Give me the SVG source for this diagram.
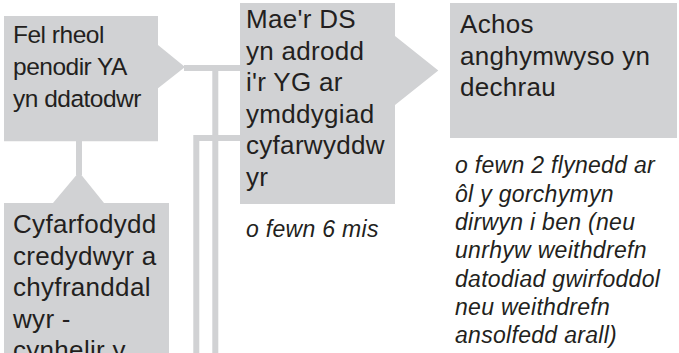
<svg xmlns="http://www.w3.org/2000/svg" width="679" height="353" viewBox="0 0 679 353">
<style>
.box{fill:#d1d2d4;}
.ln{stroke:#d1d2d4;stroke-width:6;fill:none;}
.t{font-family:"Liberation Sans",Arial,sans-serif;font-size:26px;fill:#231f20;letter-spacing:0.3px;}
.t1{font-family:"Liberation Sans",Arial,sans-serif;font-size:24.5px;fill:#231f20;letter-spacing:-0.5px;}
.n{font-family:"Liberation Sans",Arial,sans-serif;font-size:23px;font-style:italic;fill:#231f20;letter-spacing:0.3px;}
</style>
<rect width="679" height="353" fill="#ffffff"/>
<g id="connectors">
<line class="ln" x1="184" y1="68" x2="241" y2="68"/>
<line class="ln" x1="215.3" y1="68" x2="215.3" y2="353"/>
<polyline class="ln" points="241,138 196.3,138 196.3,353"/>
<line class="ln" x1="79" y1="140" x2="79" y2="175"/>
</g>
<g id="node-ya">
<path class="box" d="M4,16 H158 V45 L185,67 L158,88.3 V141.3 H4 Z"/>
<text class="t1" x="13" y="43.3">Fel rheol</text>
<text class="t1" x="13" y="75">penodir YA</text>
<text class="t1" x="13" y="106.7">yn ddatodwr</text>
</g>
<g id="node-cyfarfod">
<path class="box" d="M4,203 H53 L79,172 L104,203 H169 V353 H4 Z"/>
<text class="t" x="13" y="233.3">Cyfarfodydd</text>
<text class="t" x="13" y="264.8">credydwyr a</text>
<text class="t" x="13" y="296.3">chyfranddal</text>
<text class="t" x="13" y="327.8">wyr -</text>
<text class="t" x="13" y="359.3">cynhelir y</text>
</g>
<g id="node-ds">
<path class="box" d="M240,3 H395 V36 L438.3,70.5 L395,105 V204 H240 Z"/>
<text class="t" x="246" y="28">Mae'r DS</text>
<text class="t" x="246" y="59.6">yn adrodd</text>
<text class="t" x="246" y="91.2">i'r YG ar</text>
<text class="t" x="246" y="122.8">ymddygiad</text>
<text class="t" x="246" y="154.4">cyfarwyddw</text>
<text class="t" x="246" y="186">yr</text>
</g>
<g id="note-6mis">
<text class="n" x="246" y="236.7">o fewn 6 mis</text>
</g>
<g id="node-achos">
<rect class="box" x="450" y="3" width="227" height="135"/>
<text class="t" x="460" y="33.3">Achos</text>
<text class="t" x="460" y="64.8">anghymwyso yn</text>
<text class="t" x="460" y="96.3">dechrau</text>
</g>
<g id="note-2flynedd">
<text class="n" x="455" y="173.4">o fewn 2 flynedd ar</text>
<text class="n" x="455" y="201.7">ôl y gorchymyn</text>
<text class="n" x="455" y="230">dirwyn i ben (neu</text>
<text class="n" x="455" y="258.3">unrhyw weithdrefn</text>
<text class="n" x="455" y="286.6">datodiad gwirfoddol</text>
<text class="n" x="455" y="315">neu weithdrefn</text>
<text class="n" x="455" y="343.3">ansolfedd arall)</text>
</g>
</svg>
